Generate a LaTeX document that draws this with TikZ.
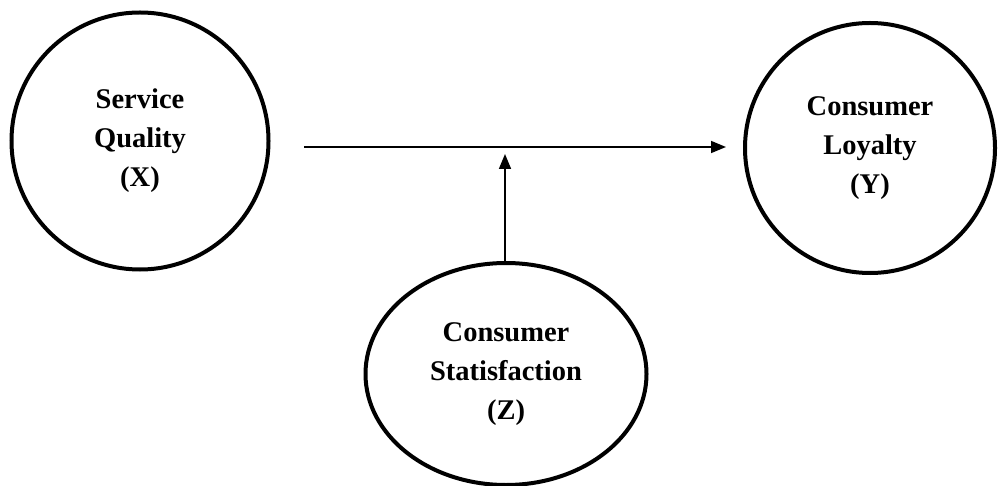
\documentclass[tikz,border=0pt]{standalone}
\usepackage{fontspec}
\setmainfont{Liberation Serif}
\usetikzlibrary{arrows.meta,shapes.geometric}
\tikzset{
	var/.style={draw=black, line width=4pt, align=center, font=\fontsize{28.5}{39}\selectfont\bfseries, inner sep=0pt},
	link/.style={draw=black, line width=1.6pt, -{Triangle[length=15pt,width=12pt]}}
}

\begin{document}
\begin{tikzpicture}[x=1pt,y=-1pt]
				\useasboundingbox (0,0) rectangle (998,486);
				
				\node[var, circle, minimum size=257pt] (quality) at (140,141) {Service\\Quality\\(X)};
				\node[var, circle, minimum size=250pt] (loyalty) at (870,148) {Consumer\\Loyalty\\(Y)};
				\node[var, ellipse, minimum width=281pt, minimum height=222pt] (satisf) at (506,374) {Consumer\\Statisfaction\\(Z)};
				
				\coordinate (from) at (304,147);
				\coordinate (to) at (726,147);
				\coordinate (meet) at (505,154);
				
				\draw[link] (from) -- (to);
				\draw[link] (satisf.north -| meet) -- (meet);
			\end{tikzpicture}
\end{document}
